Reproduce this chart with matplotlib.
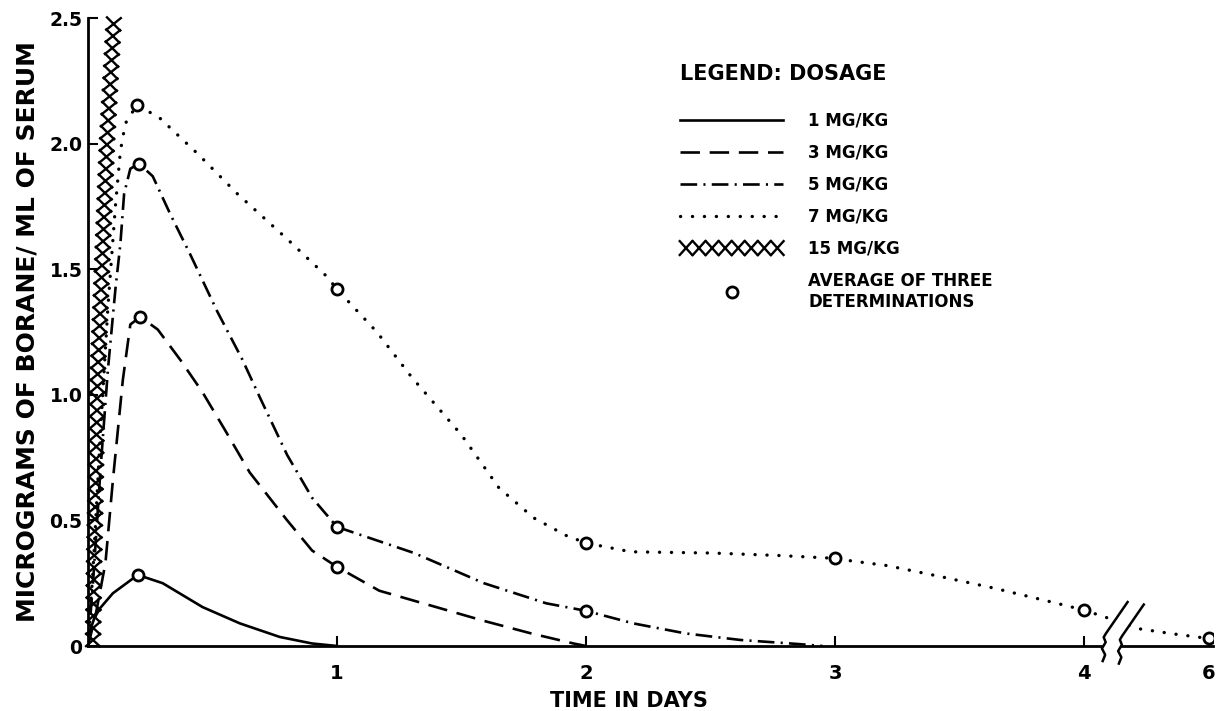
import numpy as np
import matplotlib.pyplot as plt
from matplotlib import patheffects
from matplotlib.lines import Line2D

plt.rcParams['font.family'] = 'DejaVu Sans'
plt.rcParams['font.weight'] = 'bold'
plt.rcParams['lines.scale_dashes'] = False

t1 = [0, 0.008, 0.025, 0.048, 0.10, 0.20, 0.30, 0.46, 0.61, 0.77, 0.90, 1.0]
c1 = [0, 0.06, 0.11, 0.15, 0.21, 0.283, 0.25, 0.155, 0.09, 0.036, 0.01, 0]

t3 = [0, 0.03, 0.07, 0.10, 0.14, 0.17, 0.21, 0.28, 0.37, 0.46, 0.55, 0.65, 0.80, 0.90, 1.0,
      1.17, 1.44, 1.59, 1.78, 1.95, 2.0]
c3 = [0, 0.12, 0.33, 0.66, 1.06, 1.28, 1.31, 1.26, 1.14, 1.01, 0.86, 0.69, 0.50, 0.38, 0.315,
      0.22, 0.143, 0.10, 0.05, 0.01, 0]

t5 = [0, 0.02, 0.05, 0.08, 0.11, 0.13, 0.145, 0.17, 0.205, 0.26, 0.33, 0.41, 0.52, 0.62, 0.69,
      0.80, 0.90, 1.0, 1.31, 1.59, 1.84, 2.0, 2.19, 2.40, 2.62, 2.85, 2.95]
c5 = [0, 0.25, 0.7, 1.1, 1.42, 1.6, 1.8, 1.9, 1.92, 1.87, 1.72, 1.56, 1.33, 1.14, 0.99,
      0.76, 0.59, 0.474, 0.37, 0.25, 0.17, 0.14, 0.09, 0.05, 0.024, 0.008, 0]

t7 = [0, 0.02, 0.05, 0.08, 0.11, 0.13, 0.15, 0.197, 0.29, 0.44, 0.60, 0.80, 0.96, 1.0, 1.16,
      1.3, 1.5, 1.65, 1.79, 1.92, 2.0, 2.18, 2.51, 2.78, 2.98, 3.21, 3.43, 3.64, 3.87, 4.0,
      4.4, 4.9, 5.44, 6.0]
c7 = [0, 0.3, 0.85, 1.35, 1.75, 1.97, 2.08, 2.155, 2.10, 1.96, 1.80, 1.62, 1.47, 1.42, 1.25,
      1.07, 0.84, 0.63, 0.51, 0.44, 0.41, 0.375, 0.37, 0.36, 0.35, 0.32, 0.275, 0.23, 0.175, 0.143,
      0.11, 0.068, 0.048, 0.03]

t15 = [0.02, 0.024, 0.03, 0.038, 0.056, 0.076, 0.104]
c15 = [0, 0.3, 0.6, 1.06, 1.5, 2.0, 2.5]

# averages of three determinations
avg_t = [0.2, 0.21, 1.0, 0.205, 1.0, 2.0, 0.197, 1.0, 2.0, 3.0, 4.0, 6.0]
avg_c = [0.283, 1.31, 0.315, 1.92, 0.474, 0.14, 2.155, 1.42, 0.41, 0.35, 0.143, 0.03]

labels = ['1 MG/KG', '3 MG/KG', '5 MG/KG', '7 MG/KG', '15 MG/KG']
xticks = [1, 2, 3, 4, 6]

# axis is broken after day 4, days 4-6 are squeezed
squeeze = 0.25
def tx(t):
    t = np.asarray(t, dtype=float)
    return np.where(t <= 4, t, 4 + (t - 4) * squeeze)

fig = plt.figure(figsize=(12.16, 7.11), dpi=100)
ax = fig.add_axes([88 / 1216, 65 / 711, 1125 / 1216, 628 / 711])

lw = 1.9
ax.plot(tx(t1), c1, color='black', lw=lw, label=labels[0])
ax.plot(tx(t3), c3, color='black', lw=lw, ls=(0, (14, 7)), label=labels[1])
ax.plot(tx(t5), c5, color='black', lw=lw, ls=(0, (12, 4.5, 1.5, 4.5)), label=labels[2])
ax.plot(tx(t7), c7, color='black', lw=2.4, ls=(0, (0.1, 8.5)), dash_capstyle='round',
        label=labels[3])

xx = [patheffects.TickedStroke(spacing=8.6, angle=a, length=0.78, linewidth=1.7, foreground='black')
      for a in (48, -132, 132, -48)]
ax.plot(tx(t15), c15, color='black', lw=1.7, path_effects=xx, clip_on=False, label=labels[4])

ax.plot(tx(avg_t), avg_c, ls='none', marker='o', ms=8, mew=2.0, mfc='white', mec='black',
        zorder=4)

# break symbol on the x axis
bx = 4.075
left = np.array([[bx, -0.06], [bx + 0.01, -0.035], [bx - 0.003, -0.01], [bx + 0.012, 0.015],
                 [bx + 0.004, 0.035], [bx + 0.013, 0.05], [bx + 0.1, 0.175]])
right = left + np.array([0.065, -0.01])
gap = np.vstack([left, right[::-1]])
ax.fill(gap[:, 0], gap[:, 1], color='white', zorder=5, clip_on=False)
ax.plot(left[:, 0], left[:, 1], color='black', lw=1.8, zorder=6, clip_on=False)
ax.plot(right[:, 0], right[:, 1], color='black', lw=1.8, zorder=6, clip_on=False)

ax.set_xlim(0, 4.518)
ax.set_ylim(0, 2.5)
ax.set_xticks(tx(xticks))
ax.set_xticklabels([str(v) for v in xticks])
ax.set_yticks([0, 0.5, 1.0, 1.5, 2.0, 2.5])
ax.set_yticklabels(['0', '0.5', '1.0', '1.5', '2.0', '2.5'])
for s in ('top', 'right'):
    ax.spines[s].set_visible(False)
for s in ('left', 'bottom'):
    ax.spines[s].set_linewidth(2.0)
ax.tick_params(axis='both', direction='in', length=7, width=1.5, labelsize=13.5)
ax.tick_params(axis='y', pad=4)
ax.tick_params(axis='x', pad=13, labelsize=14)

ax.set_xlabel('TIME IN DAYS', fontsize=15, fontweight='bold')
ax.xaxis.set_label_coords((629 - 88) / 1125, -0.072)
ax.set_ylabel('MICROGRAMS OF BORANE/ ML OF SERUM', fontsize=18, fontweight='bold', labelpad=7)

handles, labs = ax.get_legend_handles_labels()
handles.append(Line2D([], [], ls='none', marker='o', ms=8, mew=2.0, mfc='white', mec='black'))
labs.append('AVERAGE OF THREE\nDETERMINATIONS')
fs = 12
pad = 0.72
leg = ax.legend(handles, labs, title='LEGEND: DOSAGE', loc='upper left',
                bbox_to_anchor=((680 - pad * fs * 100 / 72) / 1216, 1 - (64 - pad * fs * 100 / 72) / 711),
                bbox_transform=fig.transFigure,
                frameon=False, fontsize=fs, handlelength=6.2, handletextpad=1.5,
                labelspacing=0.84, borderpad=pad, borderaxespad=0, alignment='left',
                title_fontproperties={'weight': 'bold', 'size': 15})
# a bit more room between the title and the entries
leg._legend_box.sep += 10

fig.savefig('out.png', dpi=100)
